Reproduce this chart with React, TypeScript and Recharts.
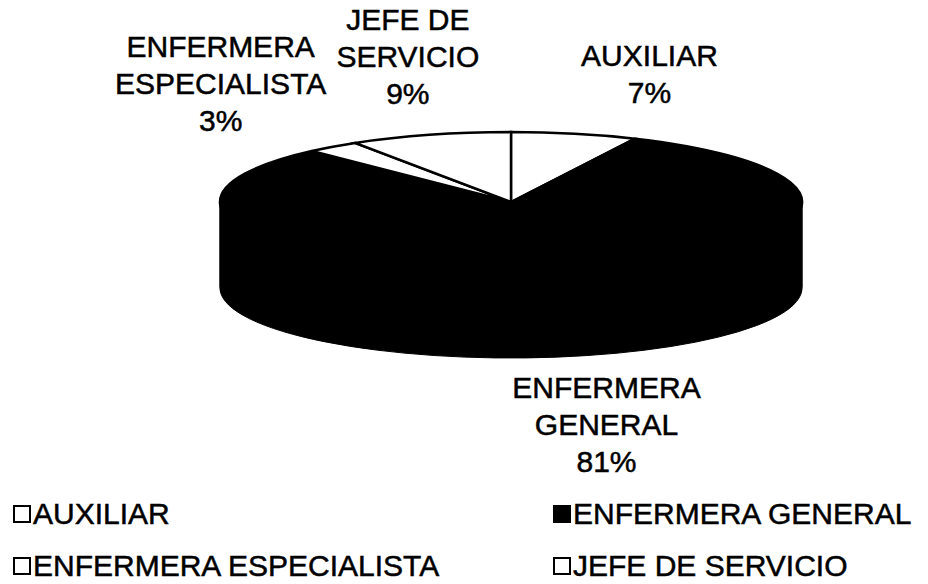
import React from 'react';
import { PieChart, Pie, Cell, Legend } from 'recharts';

// shares as printed on the chart (%)
const categories = ['AUXILIAR', 'ENFERMERA GENERAL', 'ENFERMERA ESPECIALISTA', 'JEFE DE SERVICIO'];
const shares = [7, 81, 3, 9];
const sliceFills = ['#ffffff', '#000000', '#ffffff', '#ffffff'];

const W = 928;
const H = 584;
// top face ellipse + extrusion depth
const CX = 511;
const CY = 202;
const RX = 291;
const RY = 70;
const DEPTH = 86;
const K = RY / RX;
const LINE = 37;
const FONT = '"Liberation Sans", Arial, sans-serif';

const data = categories.map((name, i) => ({ name, value: shares[i] }));

// where each label block sits, relative to its slice's rim point
const labelShift: Record<string, [number, number]> = {
  AUXILIAR: [75, -60],
  'ENFERMERA GENERAL': [50, 67],
  'ENFERMERA ESPECIALISTA': [-112, -63],
  'JEFE DE SERVICIO': [-22, -78],
};

// side of the cylinder: stacked copies of the pie, deepest first
const sideLayers: number[] = [];
for (let d = DEPTH; d > 0; d -= 2) sideLayers.push(d);

const wrap = (s: string, max = 10): string[] => {
  const out: string[] = [];
  let cur = '';
  s.split(' ').forEach((w) => {
    if (!cur) cur = w;
    else if ((cur + ' ' + w).length <= max) cur += ' ' + w;
    else {
      out.push(cur);
      cur = w;
    }
  });
  if (cur) out.push(cur);
  return out;
};

const renderLabel = (props: any) => {
  const { midAngle, index, percent } = props;
  const rad = (midAngle * Math.PI) / 180;
  const front = Math.sin(rad) < 0;
  const ax = CX + RX * Math.cos(rad);
  const ay = CY - RY * Math.sin(rad) + (front ? DEPTH : 0);
  const name = categories[index];
  const [dx, dy] = labelShift[name];
  const lines = [...wrap(name), `${Math.round(percent * 100)}%`];
  const x = ax + dx;
  const y0 = ay + dy - ((lines.length - 1) * LINE) / 2;
  return (
    <text
      key={`lbl-${index}`}
      x={x}
      y={y0}
      textAnchor="middle"
      fontFamily={FONT}
      fontSize={30}
      fill="#000"
      stroke="#000"
      strokeWidth={0.5}
    >
      {lines.map((l, i) => (
        <tspan key={i} x={x} y={y0 + i * LINE} dominantBaseline="central">
          {l}
        </tspan>
      ))}
    </text>
  );
};

const renderLegend = () => (
  <div
    style={{
      display: 'grid',
      gridTemplateColumns: '540px 375px',
      rowGap: 22,
      paddingLeft: 13,
      fontFamily: FONT,
      fontSize: 30,
      color: '#000',
      WebkitTextStroke: '0.5px #000',
    }}
  >
    {categories.map((name, i) => (
      <div key={name} style={{ display: 'flex', alignItems: 'center', height: 30, lineHeight: '30px', whiteSpace: 'nowrap' }}>
        <span
          style={{
            display: 'inline-block',
            width: 18,
            height: 18,
            boxSizing: 'border-box',
            border: '2px solid #000',
            background: sliceFills[i],
            marginRight: 2,
          }}
        />
        {name}
      </div>
    ))}
  </div>
);

export default function App() {
  return (
    <div style={{ position: 'absolute', left: 0, top: 0, width: W, height: H, background: '#fff' }}>
      <style>{`
        .pie3d path.recharts-sector {
          transform-box: view-box;
          transform-origin: ${CX}px ${CY}px;
          transform: scaleY(${K});
          vector-effect: non-scaling-stroke;
        }
      `}</style>
      <PieChart className="pie3d" width={W} height={H} margin={{ top: 0, right: 0, bottom: 0, left: 0 }}>
        {sideLayers.map((d) => (
          <Pie
            key={`side-${d}`}
            data={data}
            dataKey="value"
            nameKey="name"
            cx={CX}
            cy={CY + d / K}
            outerRadius={RX}
            startAngle={90}
            endAngle={-270}
            fill="#000"
            stroke="#000"
            strokeWidth={1}
            legendType="none"
            label={false}
            labelLine={false}
            isAnimationActive={false}
          />
        ))}
        <Pie
          data={data}
          dataKey="value"
          nameKey="name"
          cx={CX}
          cy={CY}
          outerRadius={RX}
          startAngle={90}
          endAngle={-270}
          stroke="#000"
          strokeWidth={2.5}
          label={renderLabel}
          labelLine={false}
          isAnimationActive={false}
        >
          {data.map((d, i) => (
            <Cell key={d.name} fill={sliceFills[i]} />
          ))}
        </Pie>
        <Legend content={renderLegend} wrapperStyle={{ position: 'absolute', left: 0, top: 499, width: W }} />
      </PieChart>
    </div>
  );
}
